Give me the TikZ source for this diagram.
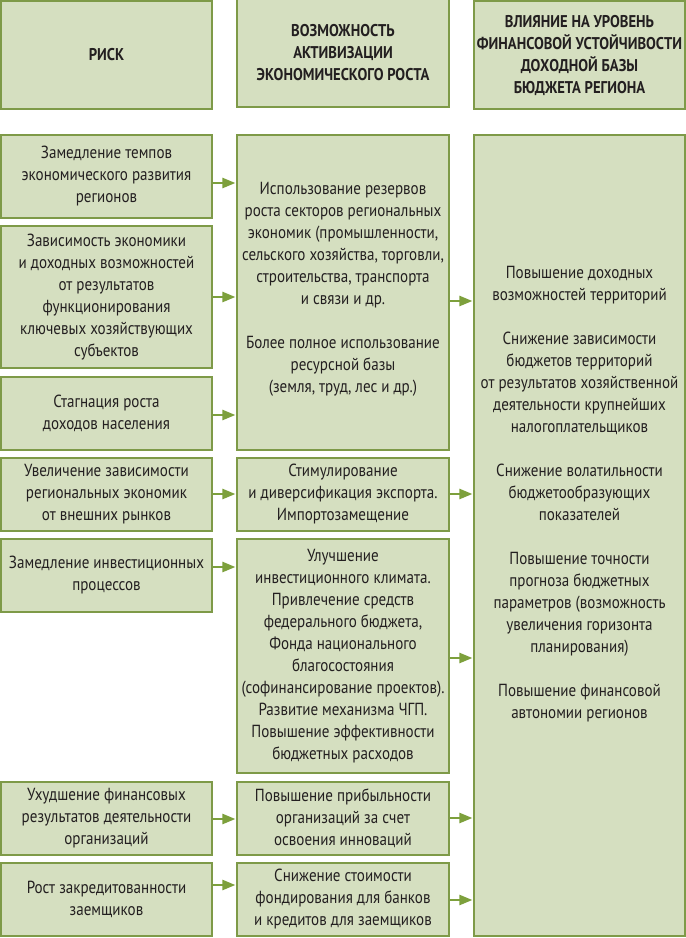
\documentclass[tikz,border=0pt]{standalone}
\usepackage{fontspec}
\setmainfont[FakeStretch=0.86]{PT Sans}
\usetikzlibrary{arrows.meta}
\definecolor{boxfill}{HTML}{D5DFC0}
\definecolor{boxline}{HTML}{7E9A48}
\definecolor{arrowc}{HTML}{7DA03C}
\definecolor{txt}{HTML}{231F20}
\tikzset{
  box/.style={draw=boxline, line width=2.2pt, fill=boxfill, inner sep=0pt, align=center,
    text=txt, font=\fontsize{17.5}{22}\selectfont},
  headbox/.style={box, font=\fontsize{17}{22}\selectfont\bfseries},
  txtnode/.style={inner sep=0pt, align=center, text=txt, font=\fontsize{17.5}{22}\selectfont},
  arr/.style={draw=arrowc, line width=2.4pt, -{Triangle[length=13pt,width=10pt]}, shorten >=0.5pt}
}
\begin{document}
\begin{tikzpicture}[x=1pt,y=-1pt]
\useasboundingbox[fill=white] (0,0) rectangle (686,938);
% headers
\node[headbox, minimum width=211pt, minimum height=108pt] (H1) at (106.5,55) {РИСК};
\node[headbox, minimum width=212pt, minimum height=108pt] (H2) at (343,53) {ВОЗМОЖНОСТЬ\\АКТИВИЗАЦИИ\\ЭКОНОМИЧЕСКОГО РОСТА};
\node[headbox, minimum width=211pt, minimum height=108pt] (H3) at (579.5,55) {ВЛИЯНИЕ НА УРОВЕНЬ\\ФИНАНСОВОЙ УСТОЙЧИВОСТИ\\ДОХОДНОЙ БАЗЫ\\БЮДЖЕТА РЕГИОНА};
% left column
\node[box, minimum width=211pt, minimum height=83pt] (L1) at (106.5,176.5) {Замедление темпов\\экономического развития\\регионов};
\node[box, minimum width=211pt, minimum height=142pt] (L2) at (106.5,297) {Зависимость экономики\\и доходных возможностей\\от результатов\\функционирования\\ключевых хозяйствующих\\субъектов};
\node[box, minimum width=211pt, minimum height=73pt] (L3) at (106.5,413.5) {Стагнация роста\\доходов населения};
\node[box, minimum width=211pt, minimum height=73pt] (L4) at (106.5,494.5) {Увеличение зависимости\\региональных экономик\\от внешних рынков};
\node[box, minimum width=211pt, minimum height=73pt] (L5) at (106.5,575.5) {Замедление инвестиционных\\процессов};
\node[box, minimum width=211pt, minimum height=73pt] (L6) at (106.5,818.5) {Ухудшение финансовых\\результатов деятельности\\организаций};
\node[box, minimum width=211pt, minimum height=73pt] (L7) at (106.5,899.5) {Рост закредитованности\\заемщиков};
% middle column
\node[box, minimum width=212pt, minimum height=315pt] (M1) at (343,292.5) {};
\node[txtnode] (M1t) at (343,289) {Использование резервов\\роста секторов региональных\\экономик (промышленности,\\сельского хозяйства, торговли,\\строительства, транспорта\\и связи и др.\\[22pt]Более полное использование\\ресурсной базы\\(земля, труд, лес и др.)};
\node[box, minimum width=212pt, minimum height=73pt] (M2) at (343,494.5) {Стимулирование\\и диверсификация экспорта.\\Импортозамещение};
\node[box, minimum width=212pt, minimum height=234pt] (M3) at (343,656) {Улучшение\\инвестиционного климата.\\Привлечение средств\\федерального бюджета,\\Фонда национального\\благосостояния\\(софинансирование проектов).\\Развитие механизма ЧГП.\\Повышение эффективности\\бюджетных расходов};
\node[box, minimum width=212pt, minimum height=73pt] (M4) at (343,818.5) {Повышение прибыльности\\организаций за счет\\освоения инноваций};
\node[box, minimum width=212pt, minimum height=73pt] (M5) at (343,899.5) {Снижение стоимости\\фондирования для банков\\и кредитов для заемщиков};
% right column
\node[box, minimum width=211pt, minimum height=801pt] (R) at (579.5,535.5) {};
\node[txtnode] (Rt) at (579.5,494) {Повышение доходных\\возможностей территорий\\[22pt]Снижение зависимости\\бюджетов территорий\\от результатов хозяйственной\\деятельности крупнейших\\налогоплательщиков\\[22pt]Снижение волатильности\\бюджетообразующих\\показателей\\[22pt]Повышение точности\\прогноза бюджетных\\параметров (возможность\\увеличения горизонта\\планирования)\\[22pt]Повышение финансовой\\автономии регионов};
% arrow levels
\coordinate (a1) at (0,183);
\coordinate (a2) at (0,297);
\coordinate (a3) at (0,415);
\coordinate (a4) at (0,494);
\coordinate (a5) at (0,567);
\coordinate (a6) at (0,819);
\coordinate (a7) at (0,885);
\coordinate (b1) at (0,301);
\coordinate (b2) at (0,494);
\coordinate (b3) at (0,658);
\coordinate (b4) at (0,818);
\coordinate (b5) at (0,900);
\draw[arr] (L1.east |- a1) -- (M1.west |- a1);
\draw[arr] (L2.east |- a2) -- (M1.west |- a2);
\draw[arr] (L3.east |- a3) -- (M1.west |- a3);
\draw[arr] (L4.east |- a4) -- (M2.west |- a4);
\draw[arr] (L5.east |- a5) -- (M3.west |- a5);
\draw[arr] (L6.east |- a6) -- (M4.west |- a6);
\draw[arr] (L7.east |- a7) -- (M5.west |- a7);
\draw[arr] (M1.east |- b1) -- (R.west |- b1);
\draw[arr] (M2.east |- b2) -- (R.west |- b2);
\draw[arr] (M3.east |- b3) -- (R.west |- b3);
\draw[arr] (M4.east |- b4) -- (R.west |- b4);
\draw[arr] (M5.east |- b5) -- (R.west |- b5);
\end{tikzpicture}
\end{document}
